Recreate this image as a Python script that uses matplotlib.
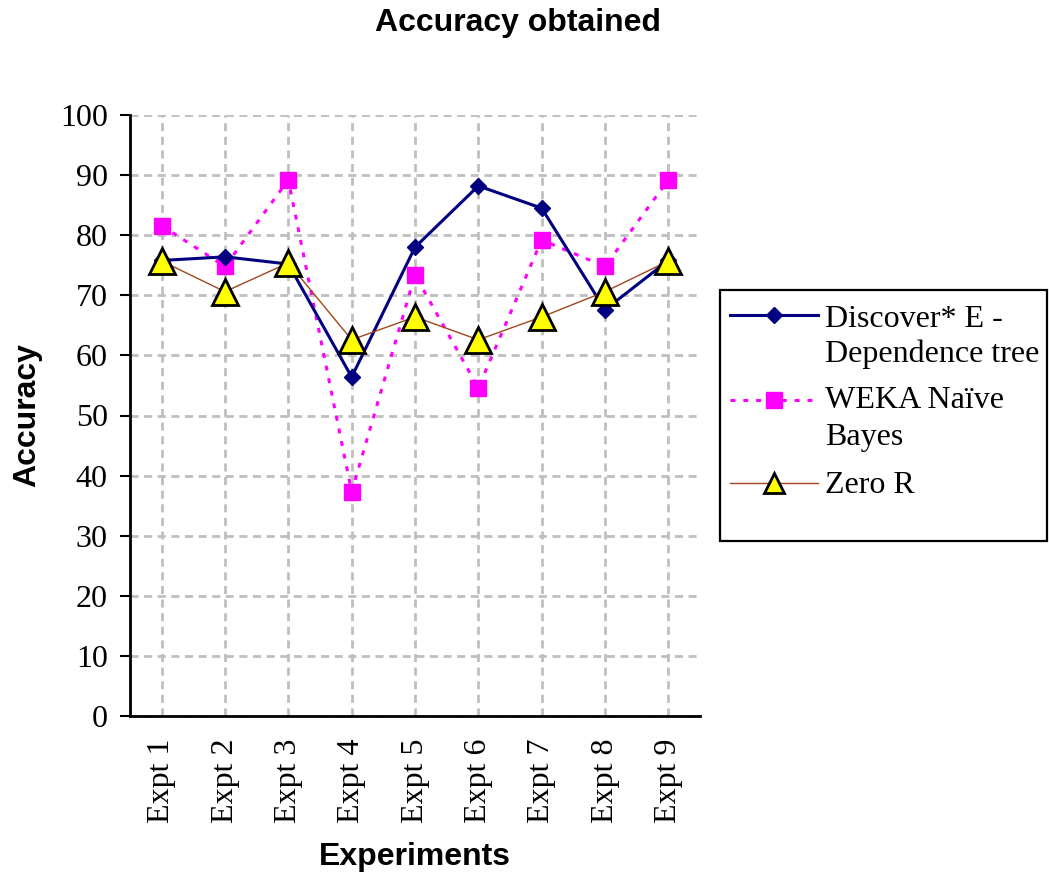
import matplotlib
matplotlib.use("Agg")
import matplotlib.pyplot as plt
from matplotlib.lines import Line2D
from matplotlib.patches import Rectangle

categories = ["Expt 1", "Expt 2", "Expt 3", "Expt 4", "Expt 5",
              "Expt 6", "Expt 7", "Expt 8", "Expt 9"]
discover = [75.8, 76.4, 75.2, 56.4, 78.0, 88.2, 84.5, 67.6, 75.8]
weka_nb = [81.6, 74.8, 89.2, 37.3, 73.4, 54.6, 79.2, 74.8, 89.2]
zero_r = [75.7, 70.6, 75.4, 62.6, 66.4, 62.6, 66.4, 70.6, 75.7]
y_ticks = list(range(0, 101, 10))

serif = "Liberation Serif"
sans = "Liberation Sans"
W, H = 1049, 876

fig = plt.figure(figsize=(W / 100, H / 100), dpi=100)
ax = fig.add_axes([130 / W, 1 - 716 / H, 570 / W, 601 / H])

navy = dict(color="#000080", lw=2.2, marker="D", ms=8,
            mfc="#000080", mec="#000080")
pink = dict(color="#FF00FF", lw=2.2, ls=(0, (1.6, 2.6)), marker="s",
            ms=11, mfc="#FF00FF", mec="#FF00FF")
brown = dict(color="#A0461E", lw=1.0, marker="^", mfc="#FFFF00",
             mec="black", mew=2.0)

x = list(range(len(categories)))
ax.plot(x, discover, zorder=4, **navy)
ax.plot(x, weka_nb, zorder=3, **pink)
ax.plot(x, zero_r, ms=19, zorder=5, **brown)

ax.set_xlim(-0.5, len(categories) - 0.5)
ax.set_ylim(0, 100)
ax.set_yticks(y_ticks)
ax.set_xticks(x)
ax.set_xticklabels(categories, rotation=90, fontfamily=serif, fontsize=23)
for lbl in ax.get_yticklabels():
    lbl.set_fontfamily(serif)
    lbl.set_fontsize(23)

ax.grid(True, color="#BFBFBF", ls=(0, (2.9, 2.0)), lw=2.0)
ax.set_axisbelow(True)
ax.tick_params(axis="x", length=0, pad=16)
ax.tick_params(axis="y", length=7, width=1.5, direction="out", pad=9)
for side in ("top", "right"):
    ax.spines[side].set_visible(False)
for side in ("left", "bottom"):
    ax.spines[side].set_linewidth(2.0)

ax.set_xlabel("Experiments", fontfamily=sans, fontweight="bold",
              fontsize=23, labelpad=14)
ax.set_ylabel("Accuracy", fontfamily=sans, fontweight="bold",
              fontsize=23, labelpad=13)
fig.text(518 / W, 1 - 23 / H, "Accuracy obtained", ha="center", va="center",
         fontfamily=sans, fontweight="bold", fontsize=23)

# Legend box with entries whose symbols sit on the first text line
def fx(px):
    return px / W


def fy(py):
    return 1 - py / H


fig.add_artist(Rectangle((fx(720), fy(541)), fx(1047) - fx(720),
                         fy(290) - fy(541), transform=fig.transFigure,
                         fill=True, facecolor="white", edgecolor="black",
                         lw=1.6))

entries = [
    (navy, {}, 315, ["Discover* E -", "Dependence tree"], [327, 362]),
    (pink, {}, 400, ["WEKA Naïve", "Bayes"], [408, 445]),
    (brown, {"ms": 15}, 483, ["Zero R"], [493]),
]
for style, extra, hy, lines, baselines in entries:
    line_kw = {k: v for k, v in style.items() if k != "marker"}
    marker_kw = {k: v for k, v in style.items() if k not in ("ls", "lw")}
    fig.add_artist(Line2D([fx(730), fx(818)], [fy(hy), fy(hy)],
                          transform=fig.transFigure, marker="None",
                          **line_kw))
    fig.add_artist(Line2D([fx(774)], [fy(hy)], transform=fig.transFigure,
                          ls="None", **{**marker_kw, **extra}))
    for txt, base in zip(lines, baselines):
        fig.text(fx(825), fy(base), txt, ha="left", va="baseline",
                 fontfamily=serif, fontsize=23)

fig.savefig("out.png", dpi=100)
